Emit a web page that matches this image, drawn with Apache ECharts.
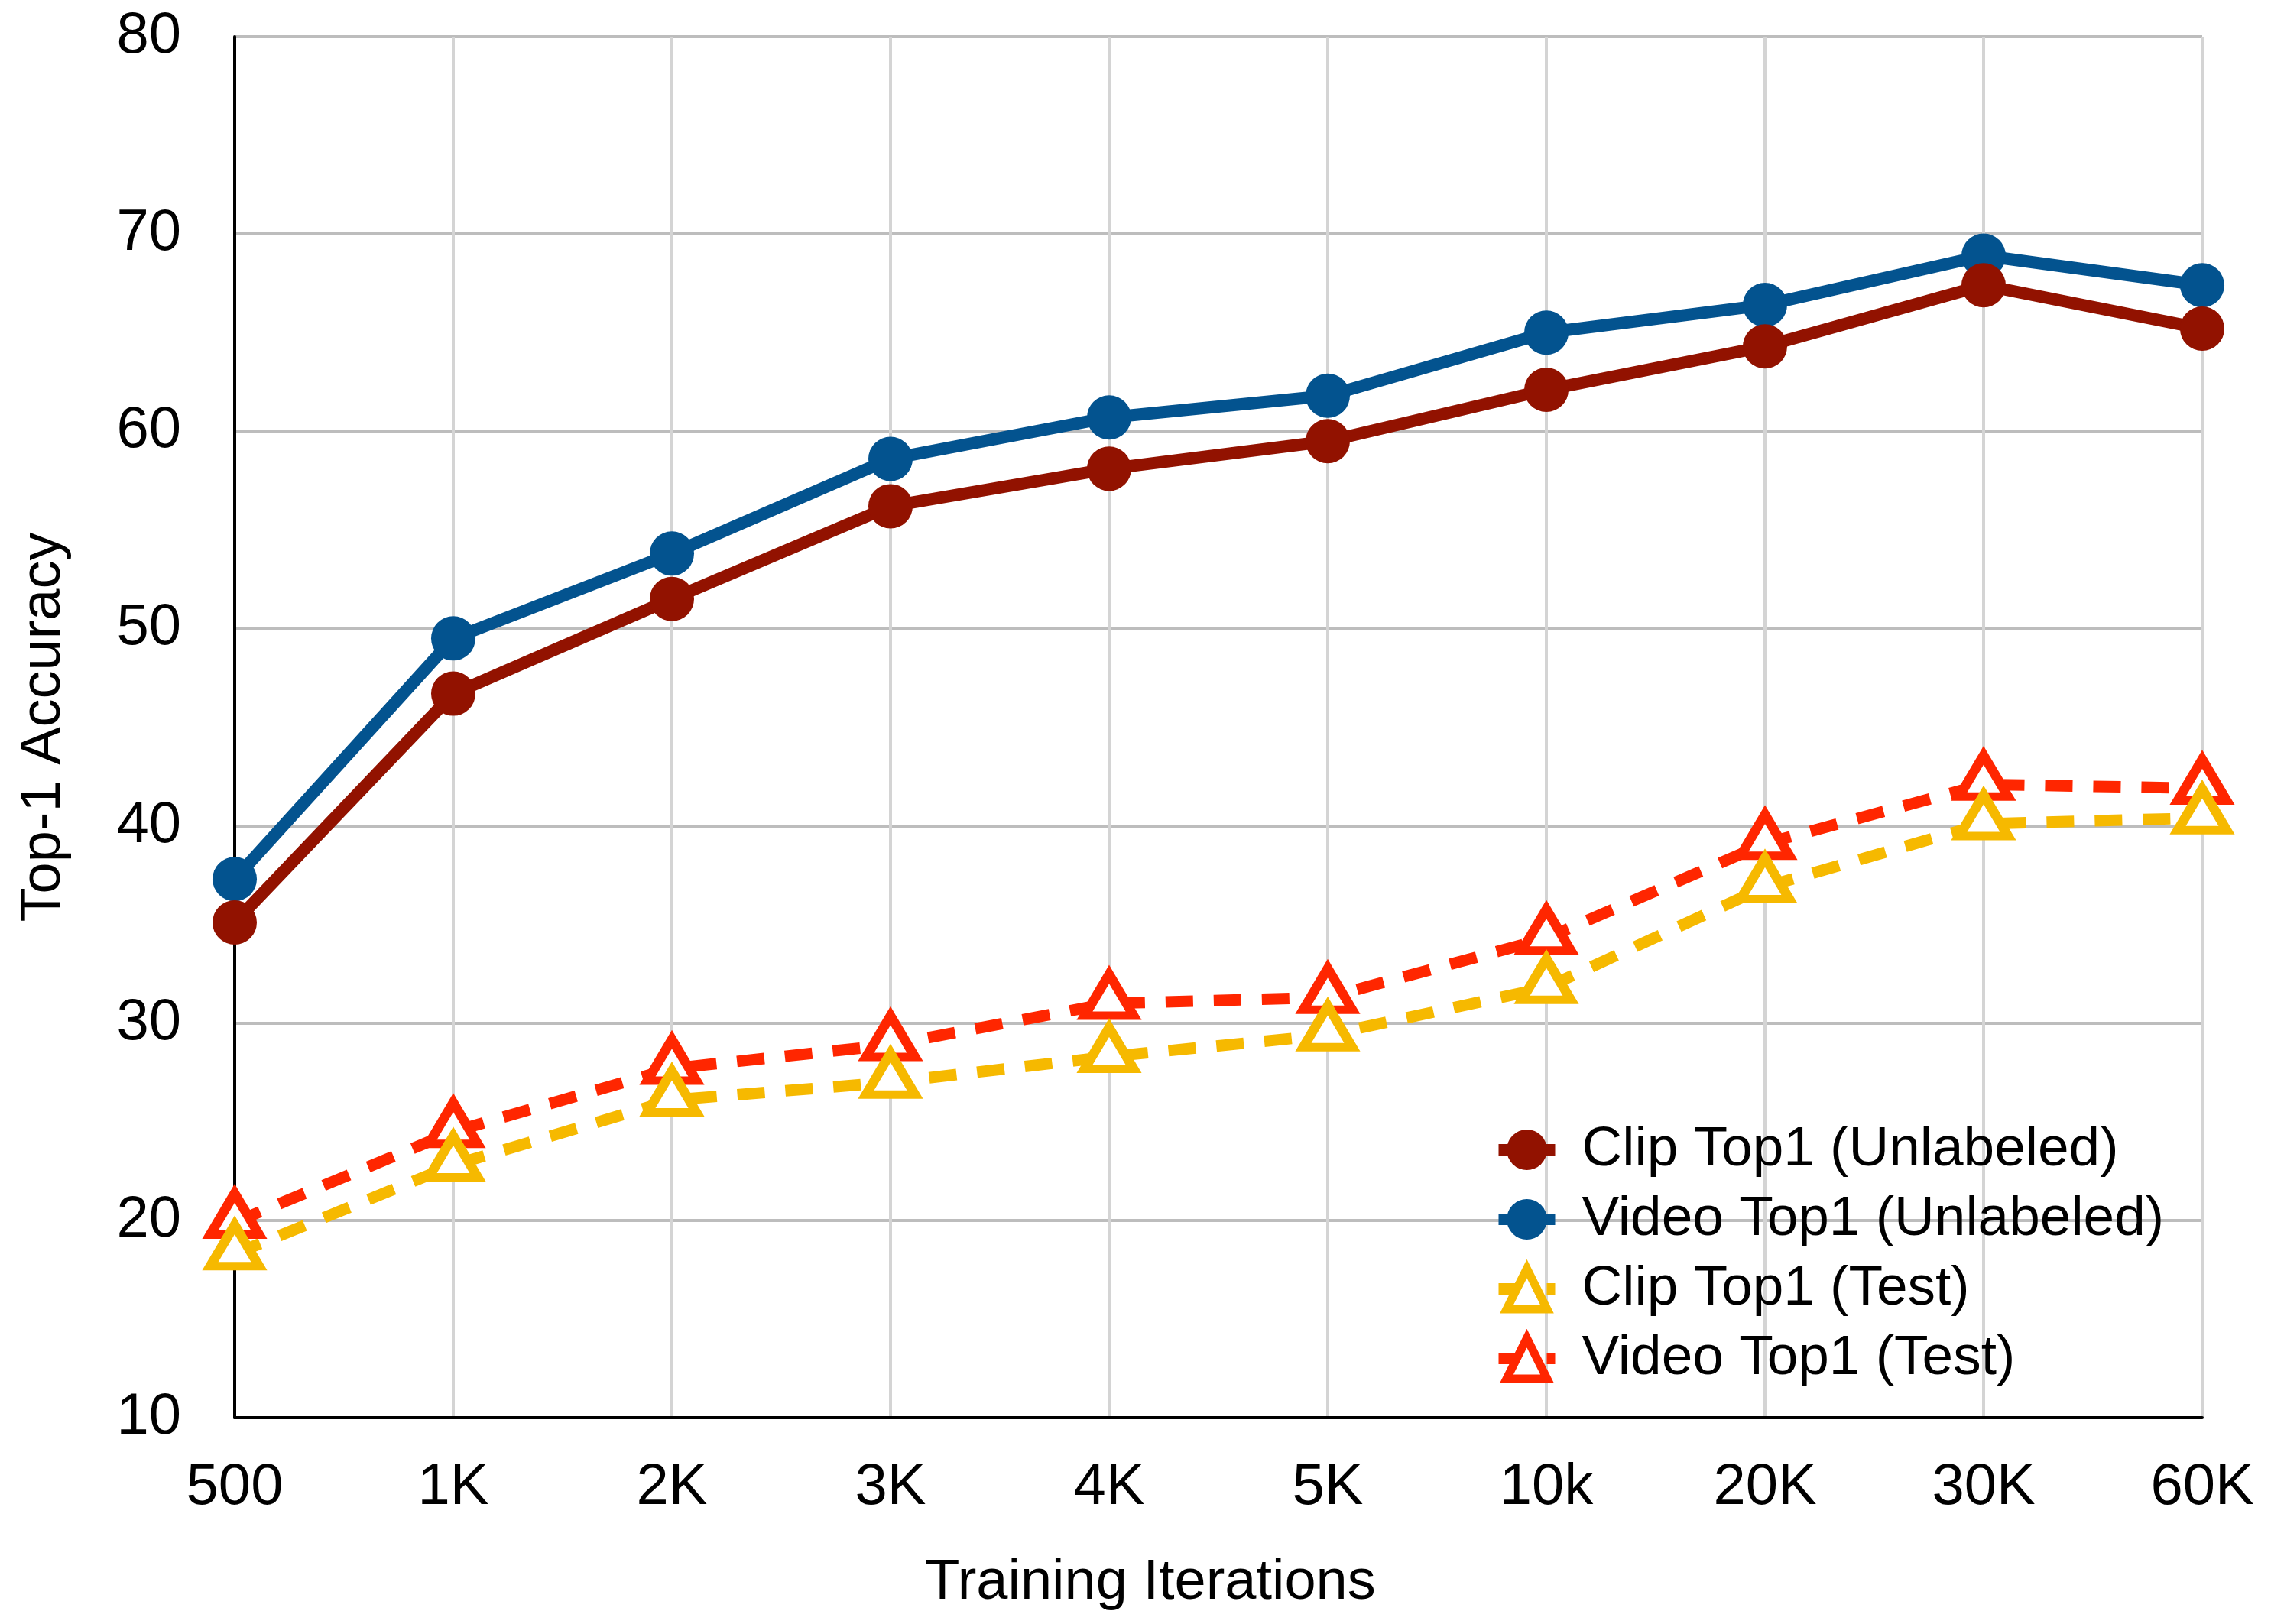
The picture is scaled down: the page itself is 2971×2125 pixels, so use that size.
<!DOCTYPE html>
<html>
<head>
<meta charset="utf-8">
<script src="https://cdn.jsdelivr.net/npm/echarts@6/dist/echarts.min.js"></script>
<style>
html, body { margin: 0; padding: 0; background: #fff; }
#main { width: 2971px; height: 2125px; }
</style>
</head>
<body>
<div id="main"></div>
<script>
const iterations = ['500', '1K', '2K', '3K', '4K', '5K', '10k', '20K', '30K', '60K'];
const clipUnlabeled = [35.1, 46.7, 51.5, 56.2, 58.1, 59.5, 62.1, 64.3, 67.4, 65.2];
const videoUnlabeled = [37.3, 49.5, 53.8, 58.6, 60.7, 61.8, 65.0, 66.4, 68.9, 67.4];
const clipTest = [18.3, 22.8, 26.1, 27.0, 28.3, 29.4, 31.8, 36.9, 40.1, 40.4];
const videoTest = [19.9, 24.5, 27.7, 28.9, 31.0, 31.3, 34.3, 39.1, 42.1, 41.9];
const yTicks = { min: 10, max: 80, step: 10 };

const FONT = 'Liberation Sans, Arial, Helvetica, sans-serif';
const C_CLIP_U = '#921200', C_VIDEO_U = '#03538f', C_CLIP_T = '#f6b900', C_VIDEO_T = '#ff2600';

function solid(name, data, color) {
    return {
        name, type: 'line', data,
        symbol: 'circle', symbolSize: 58,
        lineStyle: { color, width: 16 },
        itemStyle: { color }
    };
}

function dashed(name, data, color) {
    return {
        name, type: 'line', data,
        symbol: 'triangle', symbolSize: [64, 54], symbolOffset: [0, -11],
        lineStyle: { color, width: 15, type: [36, 27] },
        itemStyle: { color: '#fff', borderColor: color, borderWidth: 12 }
    };
}

const chart = echarts.init(document.getElementById('main'));
chart.setOption({
    animation: false,
    backgroundColor: '#fff',
    grid: { left: 307, right: 90, top: 48, bottom: 270 },
    legend: {
        orient: 'vertical', left: 1948, top: 1463,
        itemWidth: 74, itemHeight: 66, itemGap: 18,
        textStyle: { fontFamily: FONT, fontSize: 73, color: '#000', padding: [0, 0, 0, 30] },
        data: [
            { name: 'Clip Top1 (Unlabeled)', lineStyle: { width: 15 } },
            { name: 'Video Top1 (Unlabeled)', lineStyle: { width: 15 } },
            { name: 'Clip Top1 (Test)', lineStyle: { width: 15 }, itemStyle: { borderWidth: 11 } },
            { name: 'Video Top1 (Test)', lineStyle: { width: 15 }, itemStyle: { borderWidth: 11 } }
        ]
    },
    xAxis: {
        type: 'category', data: iterations, boundaryGap: false,
        name: 'Training Iterations', nameLocation: 'middle', nameGap: 180,
        nameTextStyle: { fontFamily: FONT, fontSize: 74, color: '#000', padding: [0, 178, 0, 0] },
        axisLine: { lineStyle: { color: '#000', width: 4 } },
        axisTick: { show: false },
        axisLabel: { fontFamily: FONT, fontSize: 76, color: '#000', margin: 54 },
        splitLine: { show: true, lineStyle: { color: '#d4d4d4', width: 4 } }
    },
    yAxis: {
        type: 'value', min: yTicks.min, max: yTicks.max, interval: yTicks.step,
        name: 'Top-1 Accuracy', nameLocation: 'middle', nameGap: 212, nameRotate: 90,
        nameTextStyle: { fontFamily: FONT, fontSize: 74, color: '#000' },
        axisLine: { show: true, lineStyle: { color: '#000', width: 4 } },
        axisTick: { show: false },
        axisLabel: { fontFamily: FONT, fontSize: 76, color: '#000', margin: 70 },
        splitLine: { show: true, lineStyle: { color: '#bdbdbd', width: 4 } }
    },
    series: [
        solid('Video Top1 (Unlabeled)', videoUnlabeled, C_VIDEO_U),
        solid('Clip Top1 (Unlabeled)', clipUnlabeled, C_CLIP_U),
        dashed('Video Top1 (Test)', videoTest, C_VIDEO_T),
        dashed('Clip Top1 (Test)', clipTest, C_CLIP_T)
    ]
});
</script>
</body>
</html>
